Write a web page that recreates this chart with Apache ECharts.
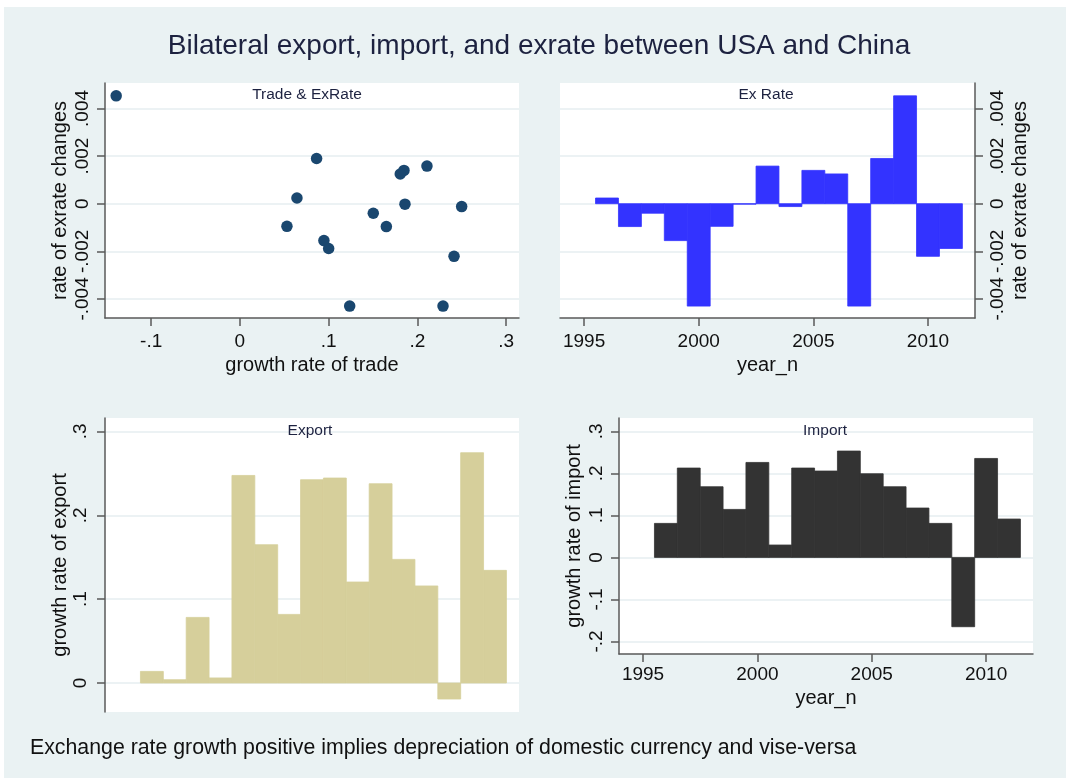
<!DOCTYPE html>
<html>
<head>
<meta charset="utf-8">
<script src="https://cdn.jsdelivr.net/npm/echarts@6/dist/echarts.min.js"></script>
<style>
  html, body { margin: 0; padding: 0; background: #ffffff; }
  #chart { width: 1066px; height: 778px; }
</style>
</head>
<body>
<div id="chart"></div>
<script>
// Annual series, 1996-2011
const years = [1996, 1997, 1998, 1999, 2000, 2001, 2002, 2003, 2004, 2005, 2006, 2007, 2008, 2009, 2010, 2011];
const tradeGrowth = [0.0643, 0.1650, 0.1503, 0.0947, 0.2289, 0.0530, 0.1860, 0.2108, 0.2499, 0.1849, 0.1807, 0.1237, 0.0864, -0.1394, 0.2413, 0.1000];
const exrateChange = [0.00024, -0.00096, -0.00040, -0.00155, -0.00430, -0.00095, -0.00002, 0.00158, -0.00012, 0.00140, 0.00125, -0.00430, 0.00190, 0.00453, -0.00221, -0.00188];
const exportGrowth = [0.0138, 0.0039, 0.0782, 0.0060, 0.2475, 0.1649, 0.0818, 0.2424, 0.2444, 0.1204, 0.2376, 0.1474, 0.1157, -0.0191, 0.2746, 0.1343];
const importGrowth = [0.0810, 0.2128, 0.1683, 0.1143, 0.2262, 0.0295, 0.2128, 0.2057, 0.2533, 0.1993, 0.1683, 0.1176, 0.0810, -0.1650, 0.2357, 0.0914];

// Tick labels
const yearTicks = [1995, 2000, 2005, 2010];
const tradeTicks = [-0.1, 0, 0.1, 0.2, 0.3];
const exrateTicks = [-0.004, -0.002, 0, 0.002, 0.004];
const exportTicks = [0, 0.1, 0.2, 0.3];
const importTicks = [-0.2, -0.1, 0, 0.1, 0.2, 0.3];

const FONT = "'Liberation Sans', Helvetica, Arial, sans-serif";
const AXIS_COLOR = '#5a5a5a';
const GRID_COLOR = '#e6eef0';

// Stata-style numbers: .004, -.002, 0
function fmt(v) {
  const r = Math.round(v * 100000) / 100000;
  if (r === 0) return '0';
  return String(r).replace(/^(-?)0\./, '$1.');
}

function axis(o) {
  return {
    type: 'value',
    gridIndex: o.grid,
    position: o.position,
    min: o.min,
    max: o.max,
    show: o.show !== false,
    name: o.name || '',
    nameLocation: 'middle',
    nameGap: o.nameGap,
    nameRotate: o.nameRotate,
    nameTextStyle: { fontFamily: FONT, fontSize: 20, color: '#111' },
    axisLine: { show: o.line !== false, onZero: false, lineStyle: { color: AXIS_COLOR, width: 1.5 } },
    axisTick: { show: o.line !== false, length: 8, customValues: o.ticks, lineStyle: { color: AXIS_COLOR, width: 1.5 } },
    axisLabel: {
      show: o.line !== false,
      customValues: o.ticks,
      rotate: o.rotate || 0,
      margin: o.margin,
      fontFamily: FONT, fontSize: 19, color: '#111',
      formatter: o.fmt || fmt
    },
    splitLine: { show: !!o.split, lineStyle: { color: GRID_COLOR, width: 1.5 } }
  };
}

// One bar per year, one year wide, from zero to the value
function barItem(params, api) {
  const x = api.value(0), v = api.value(1);
  const p0 = api.coord([x - 0.5, 0]);
  const p1 = api.coord([x + 0.5, v]);
  const color = api.visual('color');
  return {
    type: 'rect',
    shape: { x: p0[0], y: Math.min(p0[1], p1[1]), width: p1[0] - p0[0], height: Math.abs(p1[1] - p0[1]) },
    style: { fill: color, stroke: color, lineWidth: 0.8 }
  };
}

function pairs(xs, ys) { return xs.map((x, i) => [x, ys[i]]); }

const titleStyle = { fontFamily: FONT, fontWeight: 'normal', color: '#1d2240' };
const panelTitle = (text, left, top) => ({
  text, left, top, padding: 0, textAlign: 'center',
  textStyle: Object.assign({ fontSize: 15.5 }, titleStyle)
});

const option = {
  animation: false,
  backgroundColor: '#ffffff',
  graphic: [
    { type: 'rect', left: 4, top: 7, shape: { width: 1062, height: 771 }, style: { fill: '#eaf2f3' }, z: -10 },
    { type: 'rect', left: 105, top: 83, shape: { width: 414, height: 235 }, style: { fill: '#fff' }, z: -5 },
    { type: 'rect', left: 560, top: 83, shape: { width: 415, height: 235 }, style: { fill: '#fff' }, z: -5 },
    { type: 'rect', left: 105, top: 418, shape: { width: 414, height: 294 }, style: { fill: '#fff' }, z: -5 },
    { type: 'rect', left: 619, top: 418, shape: { width: 414, height: 236 }, style: { fill: '#fff' }, z: -5 }
  ],
  title: [
    { text: 'Bilateral export, import, and exrate between USA and China', left: 539, top: 32, padding: 0, textAlign: 'center',
      textStyle: Object.assign({ fontSize: 28 }, titleStyle) },
    panelTitle('Trade & ExRate', 307, 87),
    panelTitle('Ex Rate', 766, 87),
    panelTitle('Export', 310, 423),
    panelTitle('Import', 825, 423),
    { text: 'Exchange rate growth positive implies depreciation of domestic currency and vise-versa', left: 30, top: 738, padding: 0,
      textStyle: { fontFamily: FONT, fontWeight: 'normal', fontSize: 21.3, color: '#111' } }
  ],
  grid: [
    { left: 105, top: 83, width: 414, height: 235 },
    { left: 560, top: 83, width: 415, height: 235 },
    { left: 105, top: 418, width: 414, height: 294 },
    { left: 619, top: 418, width: 414, height: 236 }
  ],
  xAxis: [
    axis({ grid: 0, position: 'bottom', min: -0.152, max: 0.3145, ticks: tradeTicks, name: 'growth rate of trade', margin: 14, nameGap: 37 }),
    axis({ grid: 1, position: 'bottom', min: 1993.95, max: 2012.05, ticks: yearTicks, name: 'year_n', margin: 14, nameGap: 37, fmt: v => String(v) }),
    axis({ grid: 2, position: 'bottom', min: 1993.95, max: 2012.05, ticks: yearTicks, line: false }),
    axis({ grid: 3, position: 'bottom', min: 1993.95, max: 2012.05, ticks: yearTicks, name: 'year_n', margin: 11, nameGap: 34, fmt: v => String(v) })
  ],
  yAxis: [
    axis({ grid: 0, position: 'left', min: -0.0048, max: 0.00507, ticks: exrateTicks, name: 'rate of exrate changes', rotate: 90, margin: 13, nameGap: 35, nameRotate: 90, split: true }),
    axis({ grid: 1, position: 'right', min: -0.0048, max: 0.00507, ticks: exrateTicks, name: 'rate of exrate changes', rotate: 90, margin: 13, nameGap: 35, nameRotate: 90, split: true }),
    axis({ grid: 2, position: 'left', min: -0.0346, max: 0.316, ticks: exportTicks, name: 'growth rate of export', rotate: 90, margin: 15, nameGap: 35, nameRotate: 90, split: true }),
    axis({ grid: 3, position: 'left', min: -0.230, max: 0.332, ticks: importTicks, name: 'growth rate of import', rotate: 90, margin: 13, nameGap: 35, nameRotate: 90, split: true })
  ],
  series: [
    { type: 'scatter', xAxisIndex: 0, yAxisIndex: 0, symbolSize: 11.5, itemStyle: { color: '#1a476f', opacity: 1 },
      data: pairs(tradeGrowth, exrateChange) },
    { type: 'custom', xAxisIndex: 1, yAxisIndex: 1, renderItem: barItem, itemStyle: { color: '#3333ff' },
      encode: { x: 0, y: 1 }, data: pairs(years, exrateChange) },
    { type: 'custom', xAxisIndex: 2, yAxisIndex: 2, renderItem: barItem, itemStyle: { color: '#d6cf9b' },
      encode: { x: 0, y: 1 }, data: pairs(years, exportGrowth) },
    { type: 'custom', xAxisIndex: 3, yAxisIndex: 3, renderItem: barItem, itemStyle: { color: '#333333' },
      encode: { x: 0, y: 1 }, data: pairs(years, importGrowth) }
  ]
};

const chart = echarts.init(document.getElementById('chart'), null, { renderer: 'canvas' });
chart.setOption(option);
</script>
</body>
</html>
